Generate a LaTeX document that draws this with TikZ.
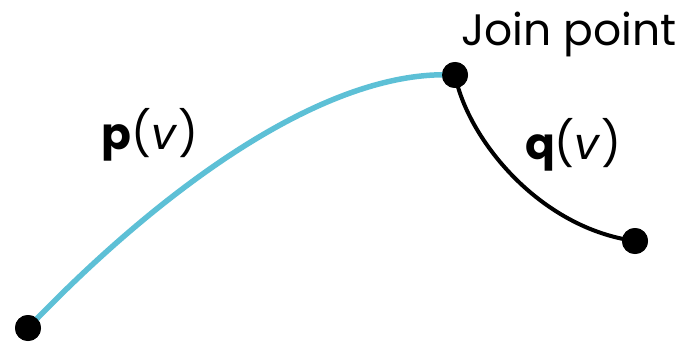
\documentclass[tikz,border=0pt]{standalone}
\usepackage{fontspec}
\setmainfont{Poppins}
\definecolor{curveblue}{RGB}{93,192,214}
\begin{document}
\begin{tikzpicture}[x=1pt,y=-1pt,
  dot/.style={circle,fill=black,inner sep=0pt,minimum size=26pt},
  lbl/.style={font=\fontsize{44}{46}\selectfont,inner sep=0pt}]
\useasboundingbox (0,0) rectangle (691,345);
\node[dot] (a) at (28,328) {};
\node[dot] (j) at (455,75) {};
\node[dot] (e) at (635,241) {};
\draw[curveblue,line width=5.5pt] (a.center) .. controls (150,200) and (320,68) .. (j.center);
\draw[black,line width=4pt] (j.center) .. controls (468,140) and (540,228) .. (e.center);
\node[dot] at (a) {};
\node[dot] at (j) {};
\node[dot] at (e) {};
\node[lbl,anchor=base west] (jl) at (461,46) {Join point};
\node[lbl] (pl) at (150,135) {\textbf{p}(\textit{v})};
\node[lbl] (ql) at (573,145) {\textbf{q}(\textit{v})};
\end{tikzpicture}
\end{document}
